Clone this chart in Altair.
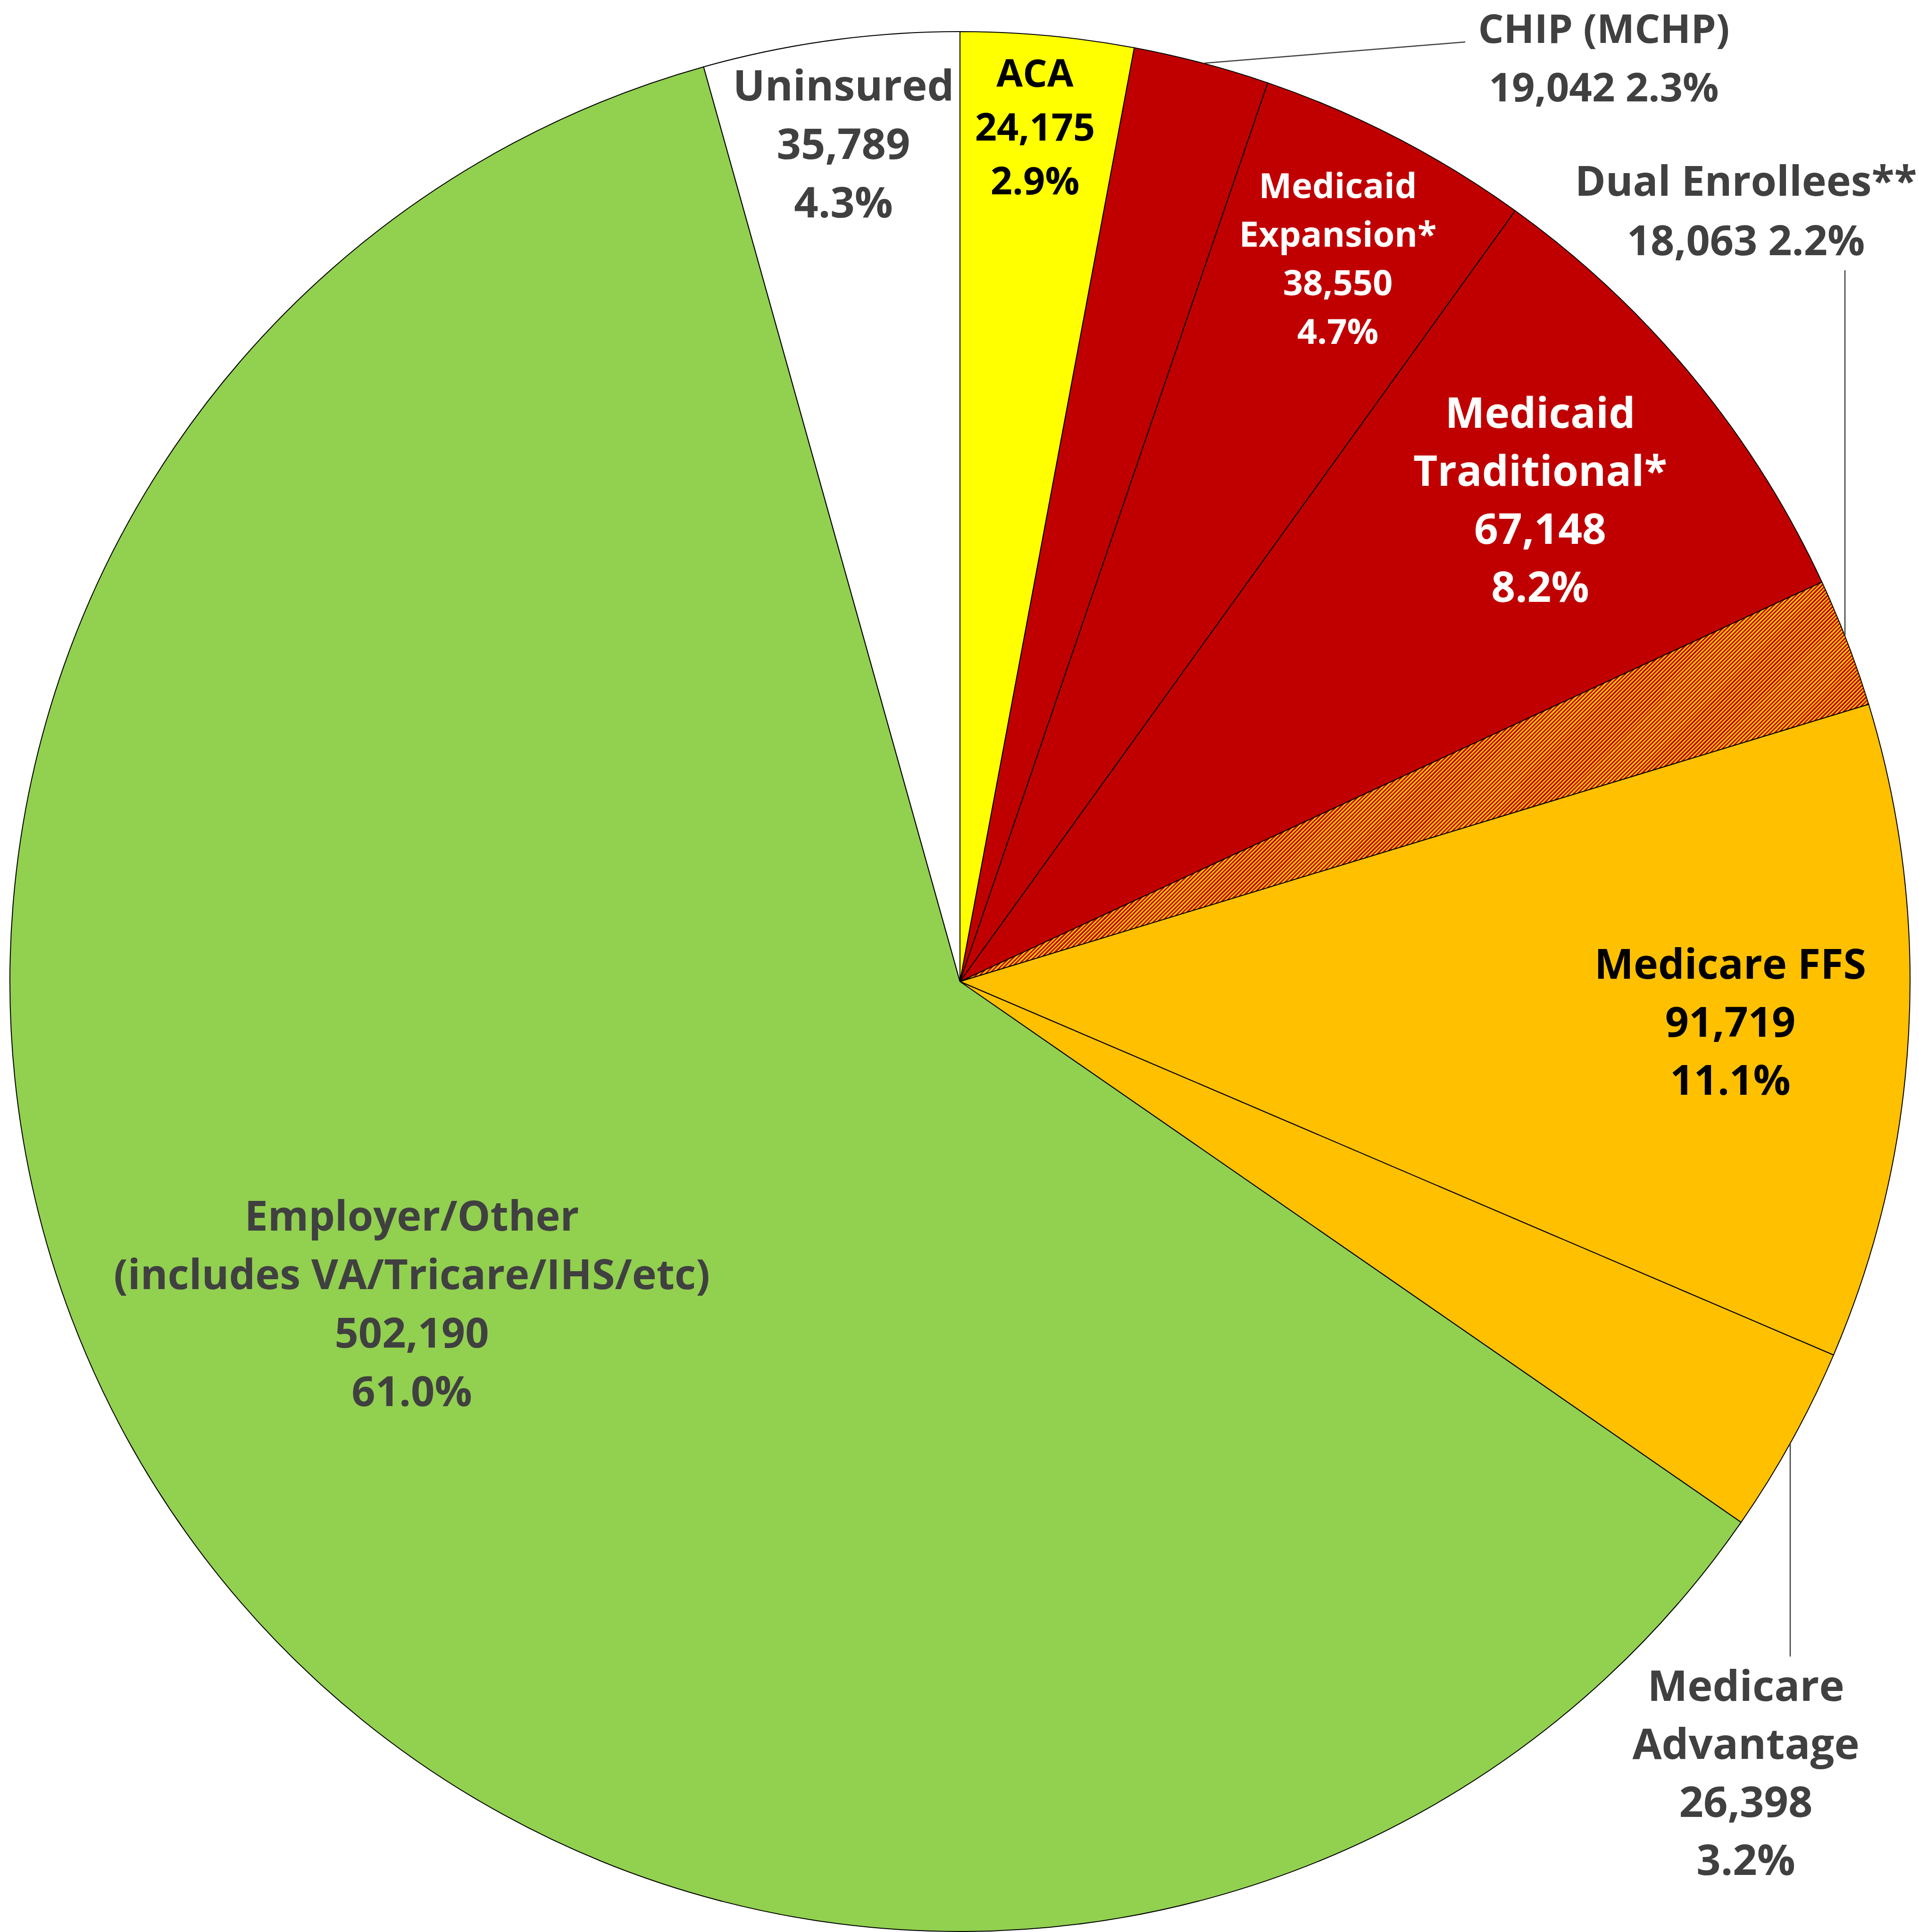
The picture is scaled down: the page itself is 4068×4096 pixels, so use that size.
import math
import altair as alt
import pandas as pd

# ---------------- data ----------------
categories = ["ACA", "CHIP (MCHP)", "Medicaid Expansion*", "Medicaid Traditional*",
              "Dual Enrollees**", "Medicare FFS", "Medicare Advantage",
              "Employer/Other", "Uninsured"]
enrollment = [24175, 19042, 38550, 67148, 18063, 91719, 26398, 502190, 35789]
slice_colors = ["#FFFF00", "#C00000", "#C00000", "#C00000", "#E06000",
                "#FFC000", "#FFC000", "#92D050", "#FFFFFF"]
name_lines = [["ACA"], ["CHIP (MCHP)"], ["Medicaid", "Expansion*"],
              ["Medicaid", "Traditional*"], ["Dual Enrollees**"], ["Medicare FFS"],
              ["Medicare", "Advantage"],
              ["Employer/Other", "(includes VA/Tricare/IHS/etc)"], ["Uninsured"]]
# value and percent on one line for these
same_line = ["CHIP (MCHP)", "Dual Enrollees**"]

# ---------------- layout (output pixels) ----------------
W, H = 4068, 4096
CX, CY, R = 2035, 2081, 2014
label_layout = {  # x, first baseline, line spacing, font size, colour
    "ACA": (2194, 184, 114, 81, "#000000"),
    "CHIP (MCHP)": (3400, 91, 124, 85, "#404040"),
    "Medicaid Expansion*": (2836, 420, 103, 74, "#FFFFFF"),
    "Medicaid Traditional*": (3265, 907, 123, 89, "#FFFFFF"),
    "Dual Enrollees**": (3701, 415, 126, 88, "#404040"),
    "Medicare FFS": (3668, 2075, 123, 88, "#000000"),
    "Medicare Advantage": (3701, 3606, 123, 90, "#404040"),
    "Employer/Other": (873, 2609, 124, 88, "#404040"),
    "Uninsured": (1788, 213, 124, 90, "#404040"),
}
leaders = [  # x, y, x2, y2
    (2552, 134, 3106, 89),
    (3911, 573, 3911, 1350),
    (3795, 3060, 3795, 3512),
]

total = sum(enrollment)

pie_df = pd.DataFrame({
    "idx": list(range(len(categories))),
    "name": categories,
    "value": enrollment,
    "color": slice_colors,
})

# hatched gradient for dual enrollees slice
i_dual = categories.index("Dual Enrollees**")
a0 = 2 * math.pi * sum(enrollment[:i_dual]) / total
a1 = 2 * math.pi * sum(enrollment[:i_dual + 1]) / total
bw = R * math.sin(a1)
bh = R * math.cos(a0)
gx, gy = 1.0, bh / bw
k = (1 + gy) / (gx * gx + gy * gy)
gx, gy = gx * k, gy * k
normal_len = math.hypot(gx / bw, gy / bh)
span = (gx * gx + gy * gy) / normal_len
period_px = 6.0
n = int(span / period_px) + 1
p = 1.0 / n
stops = []
for j in range(n):
    o = j * p
    stops += [{"offset": round(o, 6), "color": "#C00000"},
              {"offset": round(o + p / 2, 6), "color": "#C00000"},
              {"offset": round(o + p / 2, 6), "color": "#FFC000"},
              {"offset": round(min(o + p, 1.0), 6), "color": "#FFC000"}]
hatch = {"gradient": "linear", "x1": 0, "y1": 0, "x2": round(gx, 4), "y2": round(gy, 4),
         "stops": stops}

pie = alt.Chart(pie_df).mark_arc(radius=R, stroke="#000000", strokeWidth=2).encode(
    theta=alt.Theta("value:Q", stack=True),
    order=alt.Order("idx:Q", sort="ascending"),
    fill=alt.condition(alt.datum.name == "Dual Enrollees**", alt.value(hatch),
                       alt.Fill("color:N", scale=None)),
    x=alt.value(CX),
    y=alt.value(CY),
)

rows = []
for name, v, nl in zip(categories, enrollment, name_lines):
    pct = f"{v / total * 100:.1f}%"
    num = f"{v:,}"
    lines = list(nl)
    if name in same_line:
        lines.append(f"{num} {pct}")
    else:
        lines += [num, pct]
    x, y0, sp, fs, col = label_layout[name]
    for j, t in enumerate(lines):
        rows.append({"x": x, "y": y0 + j * sp, "text": t, "fs": fs, "tc": col})
lab_df = pd.DataFrame(rows)

labels = alt.Chart(lab_df).mark_text(
    font="Open Sans", fontWeight="bold", align="center", baseline="alphabetic"
).encode(
    x=alt.X("x:Q", scale=None, axis=None),
    y=alt.Y("y:Q", scale=None, axis=None),
    text="text:N",
    size=alt.Size("fs:Q", scale=None, legend=None),
    color=alt.Color("tc:N", scale=None, legend=None),
)

lead_df = pd.DataFrame(leaders, columns=["x", "y", "x2", "y2"])
lead = alt.Chart(lead_df).mark_rule(color="#404040", strokeWidth=2.5).encode(
    x=alt.X("x:Q", scale=None, axis=None),
    y=alt.Y("y:Q", scale=None, axis=None),
    x2="x2:Q",
    y2="y2:Q",
)

chart = alt.layer(pie, lead, labels).properties(
    width=W, height=H, padding=0,
    autosize=alt.AutoSizeParams(type="none"),
    background="#FFFFFF",
).configure_view(strokeWidth=0)

chart.save("out.html", embed_options={"renderer": "svg", "actions": False})
